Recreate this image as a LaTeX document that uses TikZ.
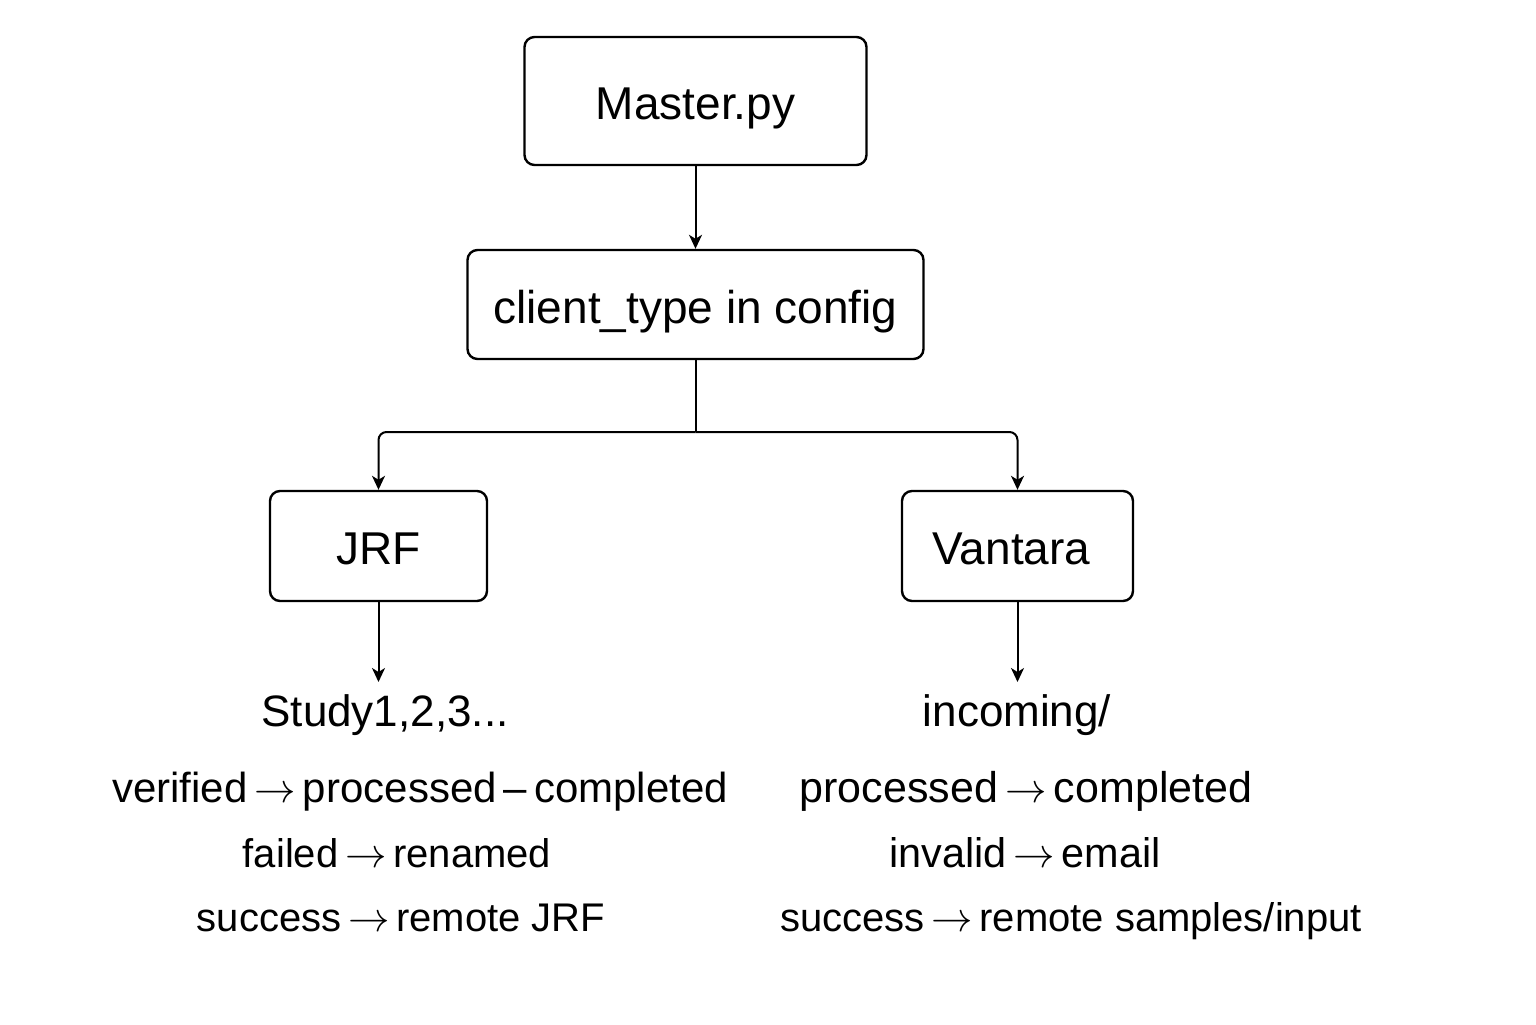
\documentclass[tikz,border=0pt]{standalone}
\usepackage{fontspec}
\setmainfont{Liberation Sans}
\usetikzlibrary{arrows.meta}
\newcommand{\ra}{\,$\rightarrow$\,}
\begin{document}
\begin{tikzpicture}[x=0.5pt,y=-0.5pt,
  boxnode/.style={draw, line width=1.2pt, rounded corners=5pt, inner sep=0pt, text height=22pt, text depth=3.5pt, font=\fontsize{23}{27}\selectfont},
  headtext/.style={inner sep=0pt, anchor=base, font=\fontsize{22}{26}\selectfont},
  subtext/.style={inner sep=0pt, anchor=base, font=\fontsize{20}{24}\selectfont},
  conn/.style={line width=1pt, -{Stealth[length=7pt,width=6.5pt,inset=2pt]}},
  plain/.style={line width=1pt}
]
\useasboundingbox[fill=white] (0,0) rectangle (1536,1024);
\node[boxnode, minimum width=171pt, minimum height=64pt] (master) at (695.5,101) {Master.py};
\node[boxnode, minimum width=228pt, minimum height=54.5pt] (client) at (695.5,304.5) {client\_type in config};
\node[boxnode, minimum width=108.5pt, minimum height=55pt] (jrf) at (378.5,546) {JRF};
\node[boxnode, minimum width=115.5pt, minimum height=55pt] (vantara) at (1017.5,546) {\hspace*{-6pt}Vantara};
\coordinate (split) at (695.5,432);
\draw[conn] (master.south) -- (client.north);
\draw[plain] (client.south) -- (split);
\draw[conn, rounded corners=4pt] (split) -| (jrf.north);
\draw[conn, rounded corners=4pt] (split) -| (vantara.north);
\node[headtext] (study) at (385,726) {Study1,2,3...};
\node[headtext] (incoming) at (1017,726) {incoming/};
\coordinate (studyin) at (378.5,682);
\coordinate (incin) at (1017.5,682);
\draw[conn] (jrf.south) -- (studyin);
\draw[conn] (vantara.south) -- (incin);
\node[subtext, font=\fontsize{21}{25}\selectfont] (l1) at (420,802) {verified\ra processed\,–\,completed};
\node[subtext] (l2) at (397,867) {failed\ra renamed};
\node[subtext] (l3) at (401,931) {success\ra remote JRF};
\node[subtext, font=\fontsize{21.5}{25}\selectfont] (r1) at (1026,802) {processed\ra completed};
\node[subtext, font=\fontsize{20.7}{25}\selectfont] (r2) at (1025,867) {invalid\ra email};
\node[subtext] (r3) at (1071,931) {success\ra remote samples/input};
\end{tikzpicture}
\end{document}
